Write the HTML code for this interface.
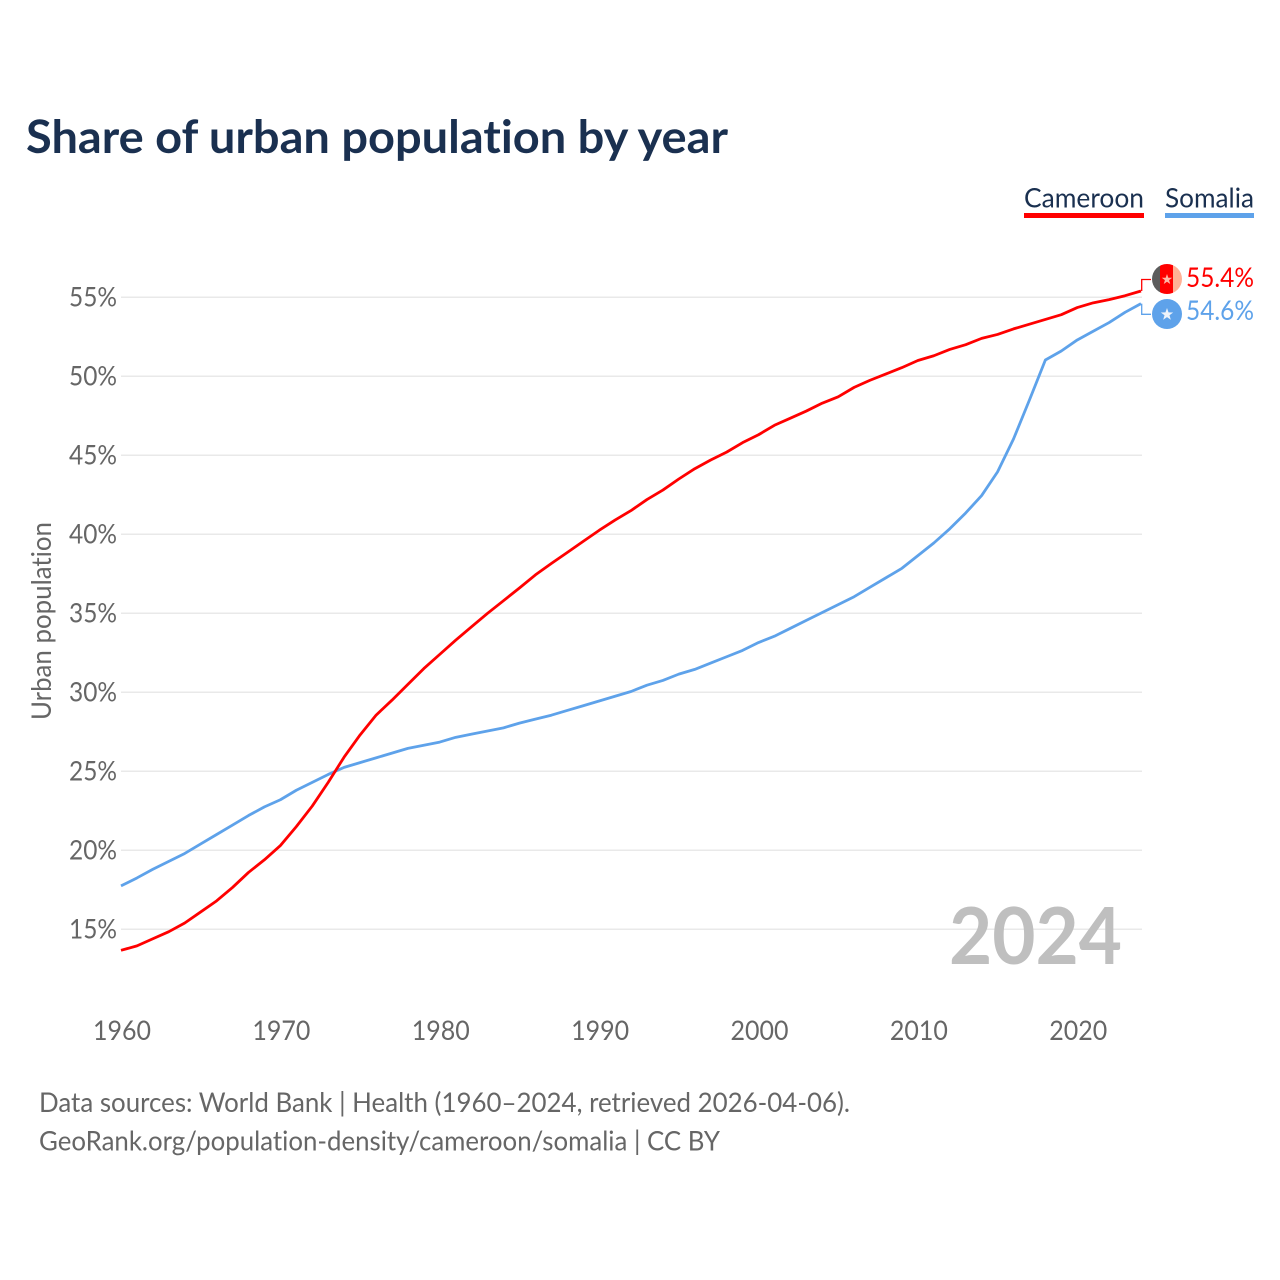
<!DOCTYPE html>
<html lang="en">
<head>
<meta charset="utf-8">
<title>Share of urban population by year</title>
<style>
html,body{margin:0;padding:0;background:#fff;}
svg{display:block;}
text{font-family:"Lato","Carlito","Liberation Sans",sans-serif;font-variant-ligatures:none;font-feature-settings:"liga" 0;}
</style>
</head>
<body>
<svg id="chart" xmlns="http://www.w3.org/2000/svg" width="1280" height="1280" viewBox="0 0 1280 1280">
  <defs>
    <clipPath id="flag-clip"><circle cx="1167" cy="279" r="15"></circle></clipPath>
  </defs>
  <rect x="0" y="0" width="1280" height="1280" fill="#ffffff"></rect>
  <text x="26" y="153" font-size="46" font-weight="700" fill="#1a3050" textLength="702" lengthAdjust="spacingAndGlyphs">Share of urban population by year</text>
  <g>
    <text x="1024" y="207.5" font-size="27.5" fill="#1a3050" textLength="120" lengthAdjust="spacingAndGlyphs">Cameroon</text>
    <rect x="1024" y="213" width="120" height="5" fill="#ff0000"></rect>
    <text x="1165" y="207.5" font-size="27.5" fill="#1a3050" textLength="89" lengthAdjust="spacingAndGlyphs">Somalia</text>
    <rect x="1165" y="213" width="89" height="5" fill="#5ea2ea"></rect>
  </g>
  <g id="grid"></g>
  <g id="y-ticks"></g>
  <g id="x-ticks"></g>
  <text transform="translate(51,720) rotate(-90)" x="0" y="0" font-size="27.5" fill="#666666" textLength="198" lengthAdjust="spacingAndGlyphs">Urban population</text>
  <text x="1122" y="964" font-size="79" font-weight="700" fill="#bfbfbf" text-anchor="end" textLength="173" lengthAdjust="spacingAndGlyphs">2024</text>
  <g id="series"></g>
  <g id="end-labels"></g>
  <text x="39" y="1112" font-size="27.5" fill="#666666" textLength="811" lengthAdjust="spacingAndGlyphs">Data sources: World Bank | Health (1960–2024, retrieved 2026-04-06).</text>
  <text x="39" y="1150.5" font-size="27.5" fill="#666666" textLength="681" lengthAdjust="spacingAndGlyphs">GeoRank.org/population-density/cameroon/somalia | CC BY</text>
</svg>
<script>
const years = [1960,1961,1962,1963,1964,1965,1966,1967,1968,1969,1970,1971,1972,1973,1974,1975,1976,1977,1978,1979,1980,1981,1982,1983,1984,1985,1986,1987,1988,1989,1990,1991,1992,1993,1994,1995,1996,1997,1998,1999,2000,2001,2002,2003,2004,2005,2006,2007,2008,2009,2010,2011,2012,2013,2014,2015,2016,2017,2018,2019,2020,2021,2022,2023,2024];
const cameroonValues = [13.67,13.95,14.4,14.85,15.4,16.1,16.8,17.65,18.6,19.4,20.3,21.5,22.8,24.3,25.9,27.3,28.55,29.5,30.5,31.5,32.4,33.3,34.15,35,35.8,36.6,37.43,38.15,38.85,39.55,40.25,40.9,41.5,42.2,42.8,43.5,44.15,44.7,45.2,45.8,46.3,46.9,47.35,47.8,48.3,48.7,49.3,49.75,50.15,50.55,51,51.3,51.7,52,52.4,52.65,53,53.3,53.6,53.9,54.35,54.65,54.85,55.1,55.4];
const somaliaValues = [17.75,18.25,18.8,19.3,19.8,20.4,21,21.6,22.2,22.75,23.2,23.8,24.3,24.8,25.25,25.55,25.85,26.15,26.45,26.65,26.85,27.15,27.35,27.55,27.75,28.05,28.3,28.55,28.85,29.15,29.45,29.75,30.05,30.45,30.75,31.15,31.45,31.85,32.25,32.65,33.15,33.55,34.05,34.55,35.05,35.55,36.05,36.65,37.25,37.85,38.65,39.45,40.35,41.35,42.45,43.95,46.03,48.5,51.03,51.6,52.3,52.85,53.4,54.05,54.6];
const yTickValues = [15,20,25,30,35,40,45,50,55];
const xTickValues = [1960,1970,1980,1990,2000,2010,2020];

const SVG_NS = 'http://www.w3.org/2000/svg';
const RED = '#ff0000';
const BLUE = '#5ea2ea';

function xScale(year) {
  return 121 + (year - 1960) * (1141 - 121) / 64;
}
function yScale(pct) {
  return 929.3 - (pct - 15) * 15.8;
}
function make(tag, attrs, parent) {
  const el = document.createElementNS(SVG_NS, tag);
  Object.keys(attrs).forEach(function (k) { el.setAttribute(k, attrs[k]); });
  parent.appendChild(el);
  return el;
}

const grid = document.getElementById('grid');
const yTicks = document.getElementById('y-ticks');
const xTicks = document.getElementById('x-ticks');
const seriesGroup = document.getElementById('series');
const endLabels = document.getElementById('end-labels');

yTickValues.forEach(function (v) {
  const line = make('line', {x1: 121, x2: 1142, y1: yScale(v), y2: yScale(v), stroke: '#e9e9e9', 'stroke-width': 1.5}, grid);
  
  
  const label = make('text', {x: 117, y: yScale(v) + 9, 'font-size': 27.5, fill: '#666666', 'text-anchor': 'end', textLength: 48, lengthAdjust: 'spacingAndGlyphs'}, yTicks);
  
  
  label.textContent = v + '%';
});

xTickValues.forEach(function (v) {
  const label = make('text', {x: xScale(v) + 1, y: 1040, 'font-size': 27.5, fill: '#666666', 'text-anchor': 'middle', textLength: 58, lengthAdjust: 'spacingAndGlyphs'}, xTicks);
  
  
  label.textContent = v;
});

function drawLine(values, color, name) {
  const d = values.map(function (v, i) {
    return (i ? 'L' : 'M') + xScale(years[i]).toFixed(2) + ' ' + yScale(v).toFixed(2);
  }).join(' ');
  const path = make('path', {d: d, fill: 'none', stroke: color, 'stroke-width': 2.8, 'stroke-linejoin': 'round'}, seriesGroup);
  
  
}
drawLine(somaliaValues, BLUE, 'line-somalia');
drawLine(cameroonValues, RED, 'line-cameroon');

function starPoints(cx, cy, r) {
  const pts = [];
  for (let i = 0; i < 10; i++) {
    const rad = i % 2 ? r * 0.4 : r;
    const a = -Math.PI / 2 + i * Math.PI / 5;
    pts.push((cx + rad * Math.cos(a)).toFixed(2) + ',' + (cy + rad * Math.sin(a)).toFixed(2));
  }
  return pts.join(' ');
}

function drawConnector(value, labelY, color, name) {
  const y0 = yScale(value);
  const p = make('path', {d: 'M1141.7 ' + y0.toFixed(2) + ' L1141.7 ' + labelY + ' L1151 ' + labelY, fill: 'none', stroke: color, 'stroke-width': 1.3}, endLabels);
  
  
}

function drawValue(value, baseline, color, name) {
  const t = make('text', {x: 1186, y: baseline, 'font-size': 27.5, fill: color, textLength: 68, lengthAdjust: 'spacingAndGlyphs'}, endLabels);
  
  
  t.textContent = value.toFixed(1) + '%';
}

const cameroonLast = cameroonValues[cameroonValues.length - 1];
const somaliaLast = somaliaValues[somaliaValues.length - 1];
const cameroonFlagY = Math.round(yScale(cameroonLast) - 12);
const somaliaFlagY = Math.round(yScale(somaliaLast) + 10);

drawConnector(cameroonLast, cameroonFlagY + 0.5, RED, 'connector-cameroon');
drawConnector(somaliaLast, somaliaFlagY + 0.3, BLUE, 'connector-somalia');

const flagCameroon = make('g', {'clip-path': 'url(#flag-clip)', transform: 'translate(0,' + (cameroonFlagY - 279) + ')'}, endLabels);


make('rect', {x: 1152, y: 264, width: 8, height: 30, fill: '#5c5c5c'}, flagCameroon);
make('rect', {x: 1160, y: 264, width: 13, height: 30, fill: '#ff0000'}, flagCameroon);
make('rect', {x: 1173, y: 264, width: 9, height: 30, fill: '#ffb196'}, flagCameroon);
make('polygon', {points: starPoints(1167, 279.5, 5.5), fill: '#ffb7a8'}, flagCameroon);

const flagSomalia = make('g', {}, endLabels);


make('circle', {cx: 1167, cy: somaliaFlagY, r: 15, fill: BLUE}, flagSomalia);
make('polygon', {points: starPoints(1167, somaliaFlagY + 0.5, 6.5), fill: '#eef3fa'}, flagSomalia);

drawValue(cameroonLast, 287, RED, 'value-label-cameroon');
drawValue(somaliaLast, 320, BLUE, 'value-label-somalia');
</script>
</body>
</html>
